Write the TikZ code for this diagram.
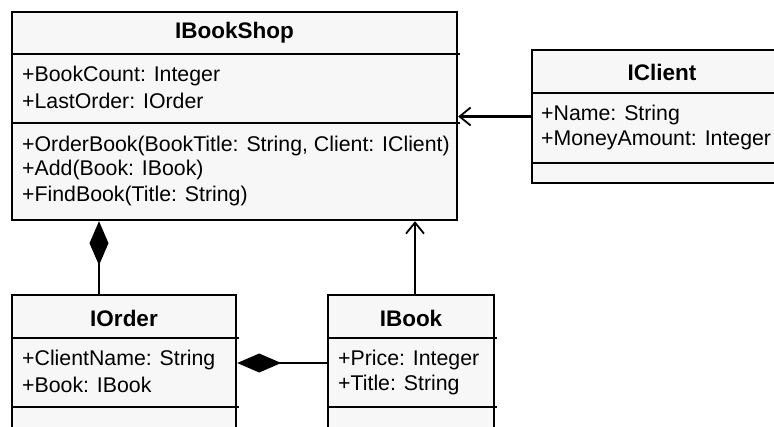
\documentclass[tikz,border=0pt]{standalone}
\usepackage{fontspec}
\setmainfont{Liberation Sans}
\usetikzlibrary{arrows.meta}

\begin{document}
\begin{tikzpicture}[x=1pt,y=-1pt,
    classbox/.style={draw, line width=2.4pt, fill=black!3, inner sep=0pt},
    title/.style={font=\fontsize{22.5}{24}\selectfont\bfseries},
    member/.style={anchor=west, inner sep=0pt, font=\fontsize{21.3}{23}\selectfont},
    sep/.style={line width=1.6pt},
    assoc/.style={line width=2.2pt, -{Straight Barb[length=11pt,width=18pt,line width=1.8pt]}},
    comp/.style={line width=2.2pt, -{Diamond[length=44pt,width=19pt]}}]
  \useasboundingbox (0,0) rectangle (774,426);
  \clip (0,0) rectangle (774,426);

  % classes
  \node[classbox, minimum width=445, minimum height=208] (shop) at (234.5,116) {};
  \node[classbox, minimum width=260, minimum height=133] (client) at (662,116.5) {};
  \node[classbox, minimum width=224, minimum height=150] (order) at (124,370) {};
  \node[classbox, minimum width=166, minimum height=150] (book) at (411,370) {};

  % compartments
  \draw[sep] (12,54) -- (460,54);
  \draw[sep] (12,123) -- (460,123);
  \draw[sep] (532,93) -- (774,93);
  \draw[sep] (532,163) -- (774,163);
  \draw[sep] (12,338) -- (239,338);
  \draw[sep] (12,407) -- (239,407);
  \draw[sep] (328,338) -- (497,338);
  \draw[sep] (328,407) -- (497,407);

  % texts
  \node[title] (shoptitle) at (234.5,33) {IBookShop};
  \node[member] (count) at (22,76) {+BookCount: Integer};
  \node[member] (last) at (22,101) {+LastOrder: IOrder};
  \node[member] (orderbook) at (22,146) {+OrderBook(BookTitle: String, Client: IClient)};
  \node[member] (add) at (22,170) {+Add(Book: IBook)};
  \node[member] (find) at (22,196) {+FindBook(Title: String)};

  \node[title] (clienttitle) at (662,72) {IClient};
  \node[member] (name) at (541,115) {+Name: String};
  \node[member] (money) at (541,140) {+MoneyAmount: Integer};

  \node[title] (ordertitle) at (124,318) {IOrder};
  \node[member] (cname) at (22,360) {+ClientName: String};
  \node[member] (obook) at (22,385) {+Book: IBook};

  \node[title] (booktitle) at (411,318) {IBook};
  \node[member] (price) at (338,360) {+Price: Integer};
  \node[member] (btitle) at (338,385) {+Title: String};

  % relations
  \draw[assoc] (client.west) -- (client.west -| shop.east);
  \draw[assoc] ([xshift=4]book.north) -- ([xshift=4]book.north |- shop.south);
  \draw[comp] ([xshift=-25]order.north) -- ([xshift=-25]order.north |- shop.south);
  \coordinate (link) at (book.west |- 0,363);
  \draw[comp] (link) -- (link -| order.east);
\end{tikzpicture}
\end{document}
